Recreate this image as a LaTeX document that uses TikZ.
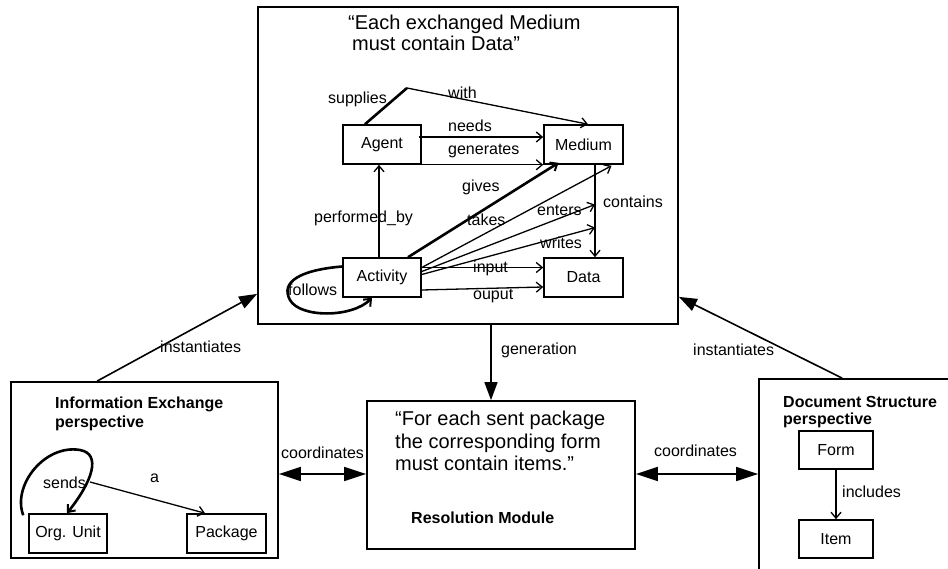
\documentclass[tikz,border=0pt]{standalone}
\usepackage{fontspec}
\setmainfont{Liberation Sans}
\usetikzlibrary{arrows.meta,calc}
\begin{document}
\begin{tikzpicture}[x=1pt,y=-1pt,
  box/.style={draw,line width=1.6pt,minimum width=78pt,minimum height=39pt,inner sep=0pt,font=\fontsize{16}{18}\selectfont},
  frame/.style={draw,line width=1.8pt,inner sep=0pt},
  lbl/.style={inner sep=0pt,anchor=west,font=\fontsize{16}{18}\selectfont},
  rel/.style={line width=1.3pt,-{Straight Barb[length=6pt,width=10pt,line width=1.3pt]}},
  thickrel/.style={line width=2.6pt,-{Straight Barb[length=6pt,width=10pt,line width=2pt]}},
  big/.style={line width=1.6pt,-{Triangle[length=18pt,width=13pt]}},
  bigboth/.style={line width=1.6pt,{Triangle[length=22pt,width=14pt]}-{Triangle[length=22pt,width=14pt]}},
  quote/.style={anchor=north west,align=left,inner sep=0pt},
  btitle/.style={anchor=north west,align=left,inner sep=0pt,font=\bfseries\fontsize{16}{18.5}\selectfont},
]
\useasboundingbox (0,0) rectangle (948,569);
\clip (0,0) rectangle (948,569);

% frames
\node[frame,minimum width=420pt,minimum height=317pt] (main) at (468,165.5) {};
\node[frame,minimum width=268pt,minimum height=148pt] (res) at (501,475) {};
\node[frame,minimum width=267pt,minimum height=176pt] (left) at (144.5,470) {};
\node[frame,minimum width=241pt,minimum height=241pt] (right) at (879.5,499.5) {};

% titles
\node[quote,font=\fontsize{20}{21}\selectfont] (title) at (348,15) {“Each exchanged Medium\\\hspace*{4pt}must contain Data”};
\node[quote,font=\fontsize{20}{22.5}\selectfont] (rq) at (395,411) {“For each sent package\\the corresponding form\\must contain items.”};
\node[inner sep=0pt,anchor=base west,font=\bfseries\fontsize{16}{18}\selectfont] (rm) at (411,523) {Resolution Module};
\node[btitle] (ietitle) at (55,397) {Information Exchange\\perspective};
\node[btitle,font=\bfseries\fontsize{16}{17}\selectfont] (dstitle) at (783,396) {Document Structure\\perspective};

% main model boxes
\node[box] (agent) at (382,144.5) {Agent};
\node[box,minimum width=79pt] (medium) at (583.5,144.5) {Medium};
\node[box] (activity) at (382,277.5) {Activity};
\node[box,minimum width=79pt] (data) at (583.5,277.5) {Data};

% left perspective boxes
\node[box] (org) at (68,533.5) {Org. Unit};
\node[box,minimum width=79pt] (package) at (226.5,533.5) {Package};

% right perspective boxes
\node[box,minimum width=74pt,minimum height=38pt] (form) at (836,450) {Form};
\node[box,minimum width=74pt,minimum height=38pt] (item) at (836,539) {Item};

% supplies / with
\coordinate (apex) at (407,88);
\draw[line width=2.6pt] ([xshift=-17pt]agent.north) -- (apex);
\draw[rel] (apex) -- ([xshift=4.5pt]medium.north);
% needs, generates
\draw[rel] ([xshift=-3pt,yshift=7.5pt]agent.east) -- ([yshift=7.5pt]medium.west);
\draw[rel] (agent.south east) -- (medium.south west);
% performed_by
\draw[rel] ([xshift=-3pt]activity.north) -- ([xshift=-3pt]agent.south);
% contains
\coordinate (ctop) at ([xshift=11.5pt]medium.south);
\coordinate (cbot) at ([xshift=11.5pt]data.north);
\draw[rel] (ctop) -- (cbot);
% fan from activity
\draw[thickrel] ([xshift=26pt]activity.north) -- ([xshift=-25pt,yshift=2pt]medium.south);
\draw[rel] ([yshift=10pt]activity.east) -- ([xshift=28pt,yshift=-1pt]medium.south);
\draw[rel] ([yshift=6pt]activity.east) -- ($(ctop)!0.43!(cbot)$);
\draw[rel] ([yshift=3pt]activity.east) -- ($(ctop)!0.68!(cbot)$);
\draw[rel] ([yshift=10pt]activity.east) -- ([yshift=10pt]data.west);
\draw[rel] ([yshift=-12.5pt]activity.east) -- ([yshift=-9.5pt]data.west);
% follows loop
\draw[thickrel] ([yshift=11pt]activity.west) .. controls (300,270) and (280,282) .. (290,300)
  .. controls (300,318) and (352,318) .. ([xshift=-10pt]activity.south);

% sends loop and a
\draw[thickrel] ([xshift=-5pt,yshift=-2pt]org.north west) .. controls (12,485) and (45,444) .. (80,450)
  .. controls (102,454) and (92,482) .. ([xshift=-1pt]org.north);
\coordinate (astart) at (90,482);
\draw[rel] (astart) -- ([xshift=-21.5pt]package.north);

% includes
\draw[rel] (form.south) -- (item.north);

% between frames
\draw[big] ([xshift=23pt]main.south) -- ([xshift=-10pt]res.north);
\draw[bigboth] ([yshift=-4pt]left.east) -- ([yshift=1pt]res.west);
\draw[bigboth] ([yshift=1pt]res.east) -- ([yshift=25.5pt]right.west);
\draw[big] ([xshift=87pt]left.north west) -- ([yshift=31pt]main.south west);
\draw[big] ([xshift=84pt]right.north west) -- ([yshift=28pt]main.south east);

% labels
\node[lbl] (lsupplies) at (328,99) {supplies};
\node[lbl] (lwith) at (448,93) {with};
\node[lbl] (lneeds) at (448,126) {needs};
\node[lbl] (lgenerates) at (448,151) {generates};
\node[lbl] (lgives) at (462,187) {gives};
\node[lbl] (ltakes) at (467,220) {takes};
\node[lbl] (lenters) at (537,210) {enters};
\node[lbl] (lcontains) at (603,202) {contains};
\node[lbl] (lwrites) at (540,243) {writes};
\node[lbl] (linput) at (473,268) {input};
\node[lbl] (louput) at (473,296) {ouput};
\node[lbl] (lperf) at (314,218) {performed\_by};
\node[lbl] (lfollows) at (288,290) {follows};
\node[lbl] (lgen) at (501,350) {generation};
\node[lbl] (lcoordL) at (281,453) {coordinates};
\node[lbl] (lcoordR) at (654,451) {coordinates};
\node[lbl] (linstL) at (160,347) {instantiates};
\node[lbl] (linstR) at (693,350) {instantiates};
\node[lbl] (lsends) at (43,483) {sends};
\node[lbl] (la) at (150,478) {a};
\node[lbl] (lincludes) at (842,492) {includes};
\end{tikzpicture}
\end{document}
